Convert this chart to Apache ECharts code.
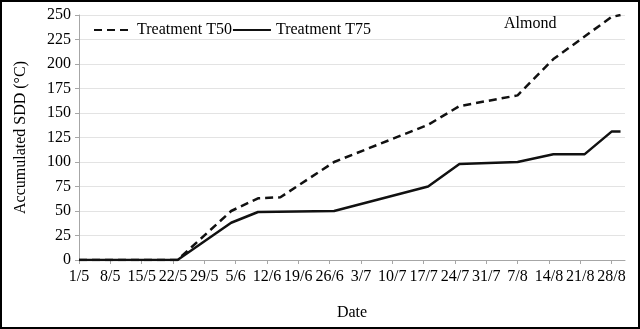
<!DOCTYPE html>
<html>
<head>
<meta charset="utf-8">
<script src="https://cdn.jsdelivr.net/npm/echarts@6/dist/echarts.min.js"></script>
<style>
  html, body { margin: 0; padding: 0; background: #fff; }
  #chart { width: 640px; height: 329px; }
</style>
</head>
<body>
<div id="chart"></div>
<script>
// weekly tick labels on the date axis (day/month)
const tickLabels = ['1/5', '8/5', '15/5', '22/5', '29/5', '5/6', '12/6', '19/6', '26/6', '3/7',
  '10/7', '17/7', '24/7', '31/7', '7/8', '14/8', '21/8', '28/8'];
const axisEnd = '31/8';

// sampling dates and accumulated SDD values
const datesT50 = ['1/5', '23/5', '4/6', '10/6', '15/6', '27/6', '18/7', '25/7', '7/8', '15/8', '28/8', '30/8'];
const valuesT50 = [0, 0, 50, 63, 64, 100, 138, 157, 168, 205, 248, 250];
const datesT75 = ['1/5', '23/5', '4/6', '10/6', '27/6', '18/7', '25/7', '7/8', '15/8', '22/8', '28/8', '30/8'];
const valuesT75 = [0, 0, 38, 49, 50, 75, 98, 100, 108, 108, 131, 131];

// day number counted from 1 May
function dayOf(s) {
    const p = s.split('/');
    return (Date.UTC(2000, +p[1] - 1, +p[0]) - Date.UTC(2000, 4, 1)) / 86400000;
}
const tickDays = tickLabels.map(dayOf);
const labelByDay = {};
tickLabels.forEach(function (l) { labelByDay[dayOf(l)] = l; });

const serif = 'Liberation Serif';
const chart = echarts.init(document.getElementById('chart'));

chart.setOption({
    animation: false,
    textStyle: { fontFamily: serif, color: '#000' },
    grid: { left: 79, right: 15, top: 15, bottom: 69 },
    legend: {
        left: 88,
        top: 17,
        itemWidth: 38,
        itemHeight: 14,
        itemGap: 0,
        itemStyle: { opacity: 0 },
        textStyle: { fontFamily: serif, fontSize: 16, color: '#000' },
        data: ['Treatment T50', 'Treatment T75']
    },
    graphic: [
        {
            type: 'text',
            left: 504,
            top: 16,
            style: { text: 'Almond', font: '16px "Liberation Serif"', fill: '#000' }
        },
        {
            type: 'rect',
            shape: { x: 1, y: 1, width: 638, height: 327 },
            style: { fill: 'none', stroke: '#000', lineWidth: 2 }
        }
    ],
    xAxis: {
        type: 'value',
        min: 0,
        max: dayOf(axisEnd),
        name: 'Date',
        nameLocation: 'middle',
        nameGap: 45,
        nameTextStyle: { fontFamily: serif, fontSize: 16, color: '#000' },
        axisLine: { lineStyle: { color: '#a6a6a6', width: 1 } },
        axisTick: { show: true, length: 4, lineStyle: { color: '#a6a6a6' }, customValues: tickDays },
        axisLabel: {
            customValues: tickDays,
            margin: 9,
            fontFamily: serif,
            fontSize: 16,
            color: '#000',
            formatter: function (v) { return labelByDay[Math.round(v)] || ''; }
        },
        splitLine: { show: false }
    },
    yAxis: {
        type: 'value',
        min: 0,
        max: 250,
        interval: 25,
        name: 'Accumulated SDD (°C)',
        nameLocation: 'middle',
        nameGap: 50,
        nameTextStyle: { fontFamily: serif, fontSize: 16, color: '#000' },
        axisLine: { show: true, lineStyle: { color: '#a6a6a6', width: 1 } },
        axisTick: { show: true, length: 4, lineStyle: { color: '#a6a6a6' } },
        axisLabel: { margin: 8, fontFamily: serif, fontSize: 16, color: '#000' },
        splitLine: { lineStyle: { color: '#e3e3e3', width: 1 } }
    },
    series: [
        {
            name: 'Treatment T50',
            type: 'line',
            symbol: 'none',
            lineStyle: { color: '#111', width: 2.5, type: [8, 5] },
            itemStyle: { color: '#111' },
            data: datesT50.map(function (d, i) { return [dayOf(d), valuesT50[i]]; })
        },
        {
            name: 'Treatment T75',
            type: 'line',
            symbol: 'none',
            lineStyle: { color: '#111', width: 2.5 },
            itemStyle: { color: '#111' },
            data: datesT75.map(function (d, i) { return [dayOf(d), valuesT75[i]]; })
        }
    ]
});
</script>
</body>
</html>
